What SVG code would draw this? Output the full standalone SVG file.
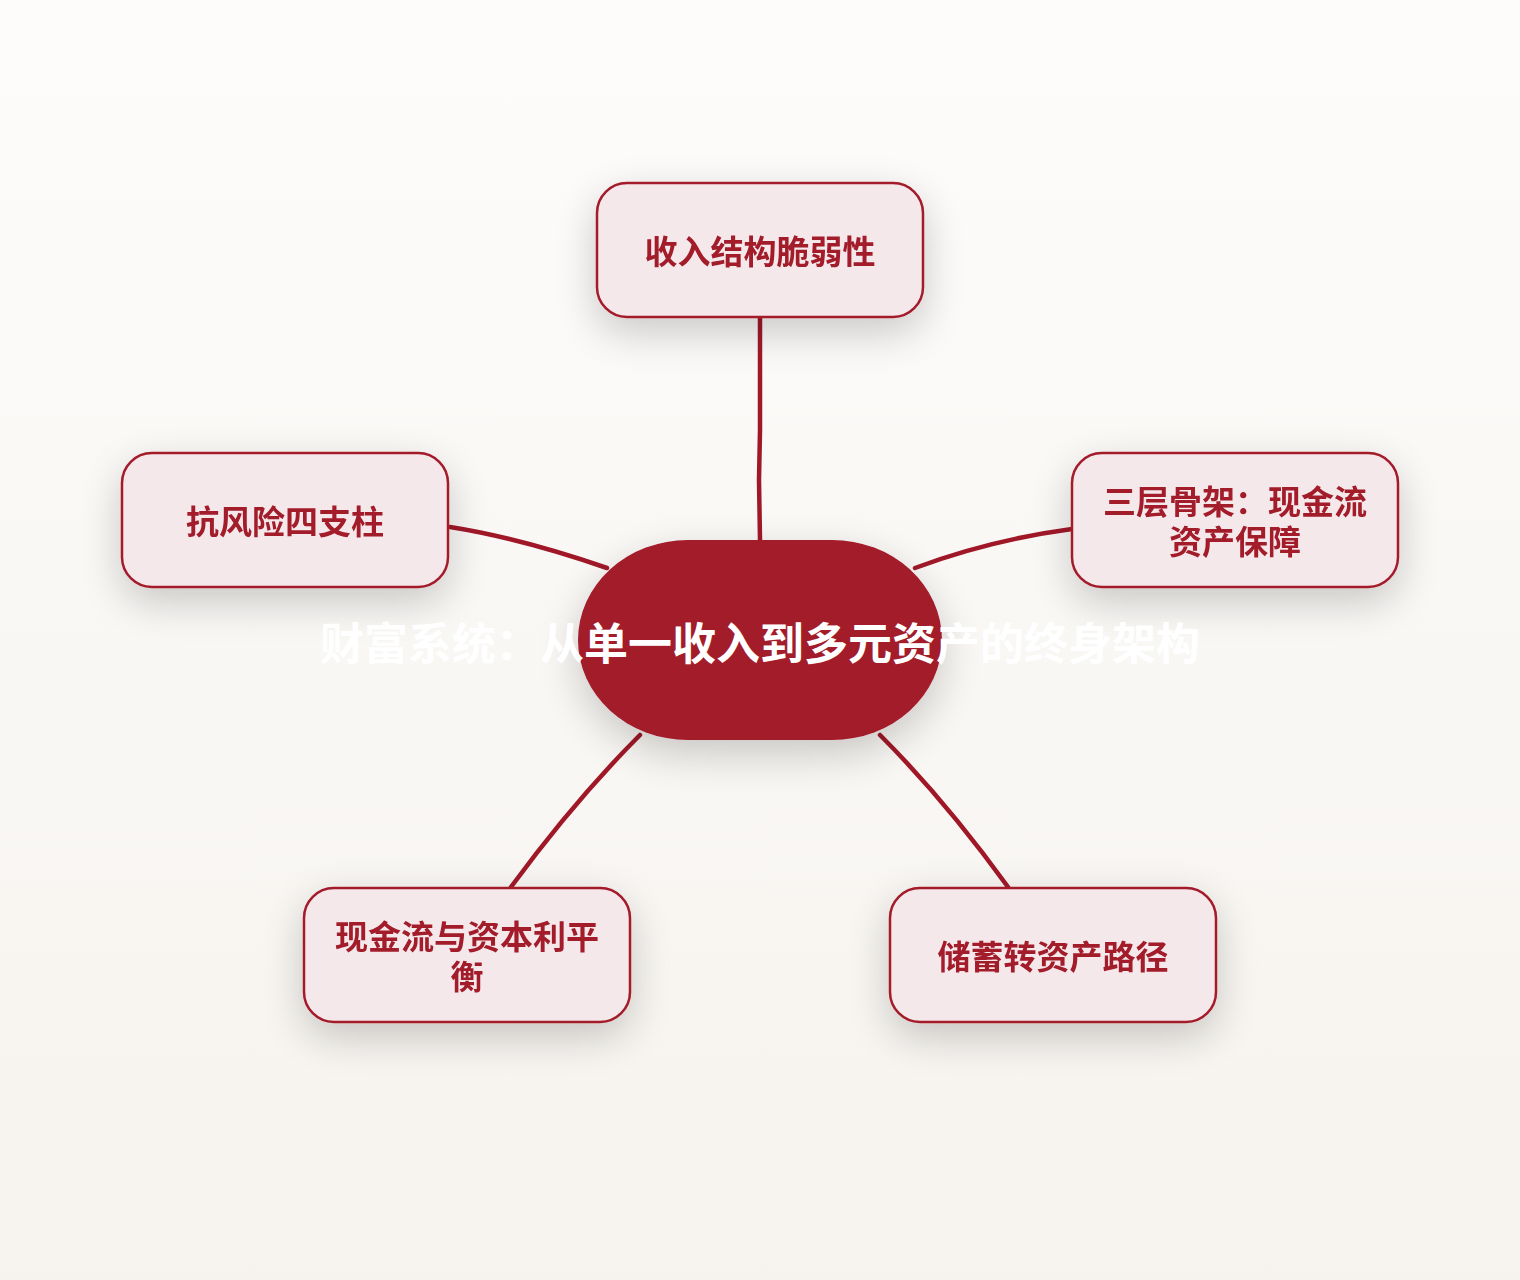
<svg xmlns="http://www.w3.org/2000/svg" width="1520" height="1280" viewBox="0 0 1520 1280">
<defs>
<linearGradient id="bg" x1="0" y1="0" x2="0" y2="1">
<stop offset="0" stop-color="#fdfcfb"/>
<stop offset="1" stop-color="#f6f3ee"/>
</linearGradient>
<filter id="sh" x="-40%" y="-40%" width="180%" height="200%">
<feGaussianBlur in="SourceAlpha" stdDeviation="20"/>
<feOffset dx="0" dy="14" result="b"/>
<feComponentTransfer><feFuncA type="linear" slope="0.2"/></feComponentTransfer>
<feMerge><feMergeNode/><feMergeNode in="SourceGraphic"/></feMerge>
</filter>
</defs>
<style>
.node{fill:#f5e8eb;stroke:#a31a2b;stroke-width:2.5}
.lbl{font-family:"Noto Sans CJK SC","Noto Sans",sans-serif;font-weight:700;font-size:33px;fill:#a31a2b;text-anchor:middle}
.edge{fill:none;stroke:#a01828;stroke-width:4.5;stroke-linecap:round}
.title{font-family:"Noto Sans CJK SC","Noto Sans",sans-serif;font-weight:700;font-size:44px;fill:#ffffff;text-anchor:middle}
</style>
<rect width="1520" height="1280" fill="url(#bg)"/>
<g id="connectors">
<path class="edge" d="M760,318 L760,430 L759,480 L760,540"/>
<path class="edge" d="M450,527 Q520,538 607,568"/>
<path class="edge" d="M915,568 Q990,540 1072,529"/>
<path class="edge" d="M511,887 Q575,800 640,735"/>
<path class="edge" d="M1008,887 Q945,800 880,735"/>
</g>
<g id="n-top" filter="url(#sh)">
<rect class="node" x="597" y="183" width="326" height="134" rx="30"/>
<text class="lbl" x="760" y="264">收入结构脆弱性</text>
</g>
<g id="n-left" filter="url(#sh)">
<rect class="node" x="122" y="453" width="326" height="134" rx="30"/>
<text class="lbl" x="285" y="534">抗风险四支柱</text>
</g>
<g id="n-right" filter="url(#sh)">
<rect class="node" x="1072" y="453" width="326" height="134" rx="30"/>
<text class="lbl" x="1235" y="514">三层骨架：现金流</text>
<text class="lbl" x="1235" y="554">资产保障</text>
</g>
<g id="n-bl" filter="url(#sh)">
<rect class="node" x="304" y="888" width="326" height="134" rx="30"/>
<text class="lbl" x="467" y="949">现金流与资本利平</text>
<text class="lbl" x="467" y="989">衡</text>
</g>
<g id="n-br" filter="url(#sh)">
<rect class="node" x="890" y="888" width="326" height="134" rx="30"/>
<text class="lbl" x="1053" y="969">储蓄转资产路径</text>
</g>
<g id="n-center">
<rect x="578" y="540" width="364" height="200" rx="110" ry="100" fill="#a31a2b" filter="url(#sh)"/>
<text class="title" x="760" y="660">财富系统：从单一收入到多元资产的终身架构</text>
</g>
</svg>
